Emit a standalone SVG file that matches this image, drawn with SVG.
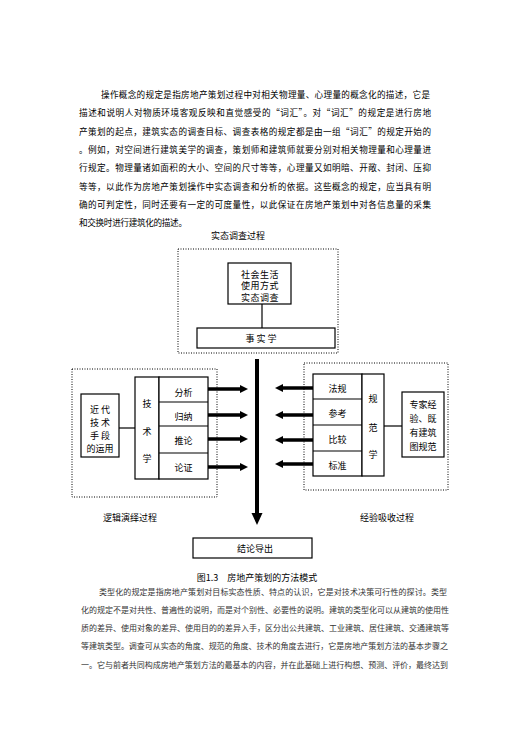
<svg xmlns="http://www.w3.org/2000/svg" width="529" height="748" viewBox="0 0 529 748">
<style>
text{font-family:"Noto Sans CJK SC","Noto Sans",sans-serif;dominant-baseline:central;fill:#000}
.p{font-size:8.6px}
.q{font-size:8px;fill:#333}
.t{font-size:9px;text-anchor:middle}
.box{fill:#fff;stroke:#000;stroke-width:1.2}
.dot{fill:none;stroke:#000;stroke-width:1;stroke-dasharray:1 1.5}
.ln{stroke:#000;stroke-width:1.2}
.arr{stroke:#000;stroke-width:3.5;marker-end:url(#ah)}
</style>
<defs>
<marker id="ah" markerUnits="userSpaceOnUse" markerWidth="9" markerHeight="9" refX="1" refY="4.5" orient="auto" viewBox="0 0 9 9">
<polygon points="0,0.5 8,4.5 0,8.5"/>
</marker>
</defs>
<rect width="529" height="748" fill="#fff"/>
<g id="para1">
<text class="p" x="101" y="94" textLength="329" lengthAdjust="spacing">操作概念的规定是指房地产策划过程中对相关物理量、心理量的概念化的描述，它是</text>
<text class="p" x="79" y="112.3" textLength="352" lengthAdjust="spacing">描述和说明人对物质环境客观反映和直觉感受的“词汇”。对“词汇”的规定是进行房地</text>
<text class="p" x="79" y="130.6" textLength="352" lengthAdjust="spacing">产策划的起点，建筑实态的调查目标、调查表格的规定都是由一组“词汇”的规定开始的</text>
<text class="p" x="79" y="148.9" textLength="352" lengthAdjust="spacing">。例如，对空间进行建筑美学的调查，策划师和建筑师就要分别对相关物理量和心理量进</text>
<text class="p" x="79" y="167.2" textLength="352" lengthAdjust="spacing">行规定。物理量诸如面积的大小、空间的尺寸等等，心理量又如明暗、开敞、封闭、压抑</text>
<text class="p" x="79" y="185.5" textLength="352" lengthAdjust="spacing">等等，以此作为房地产策划操作中实态调查和分析的依据。这些概念的规定，应当具有明</text>
<text class="p" x="79" y="203.8" textLength="352" lengthAdjust="spacing">确的可判定性，同时还要有一定的可度量性，以此保证在房地产策划中对各信息量的采集</text>
<text class="p" x="79" y="222.1" textLength="108" lengthAdjust="spacing">和交换时进行建筑化的描述。</text>
</g>
<g id="title-top"><text class="t" x="238" y="235">实态调查过程</text></g>
<rect class="dot" x="178" y="249" width="160" height="104"/>
<rect class="dot" x="72" y="369" width="145" height="128"/>
<rect class="dot" x="304" y="363" width="144" height="127"/>
<g id="connectors">
<line class="ln" x1="262" y1="304" x2="262" y2="328"/>
<line class="ln" x1="119" y1="428" x2="135" y2="428"/>
<line class="ln" x1="384" y1="426" x2="402" y2="426"/>
<line class="arr" x1="208" y1="389" x2="241" y2="389"/>
<line class="arr" x1="208" y1="415" x2="241" y2="415"/>
<line class="arr" x1="208" y1="439" x2="241" y2="439"/>
<line class="arr" x1="208" y1="467" x2="241" y2="467"/>
<line class="arr" x1="313" y1="388" x2="282" y2="388"/>
<line class="arr" x1="313" y1="415" x2="282" y2="415"/>
<line class="arr" x1="313" y1="440" x2="282" y2="440"/>
<line class="arr" x1="313" y1="464" x2="282" y2="464"/>
<rect x="255" y="359" width="4" height="155" fill="#000"/>
<polygon points="251.5,513 262.5,513 257,525" fill="#000"/>
</g>
<g id="n-shehui">
<rect class="box" x="228" y="263" width="63" height="41"/>
<text class="t" x="260" y="274" letter-spacing="0.5">社会生活</text>
<text class="t" x="260" y="285.5" letter-spacing="0.5">使用方式</text>
<text class="t" x="260" y="297" letter-spacing="0.5">实态调查</text>
</g>
<g id="n-shishi">
<rect class="box" x="197" y="328" width="138" height="20"/>
<text class="t" x="261" y="338">事 实 学</text>
</g>
<g id="n-jindai">
<rect class="box" x="81" y="394" width="38" height="63"/>
<text class="t" x="100" y="409">近 代</text>
<text class="t" x="100" y="422">技 术</text>
<text class="t" x="100" y="435">手 段</text>
<text class="t" x="100" y="448">的运用</text>
</g>
<g id="n-jishuxue">
<rect class="box" x="135" y="377" width="24" height="102"/>
<text class="t" x="147" y="403">技</text>
<text class="t" x="147" y="431">术</text>
<text class="t" x="147" y="458">学</text>
</g>
<g id="n-left-list">
<rect class="box" x="159" y="377" width="49" height="102"/>
<line class="ln" x1="159" y1="402" x2="208" y2="402"/>
<line class="ln" x1="159" y1="426" x2="208" y2="426"/>
<line class="ln" x1="159" y1="453" x2="208" y2="453"/>
<text class="t" x="183.5" y="392">分析</text>
<text class="t" x="183.5" y="416">归纳</text>
<text class="t" x="183.5" y="440">推论</text>
<text class="t" x="183.5" y="467">论证</text>
</g>
<g id="n-right-list">
<rect class="box" x="313" y="374" width="49" height="102"/>
<line class="ln" x1="313" y1="399" x2="362" y2="399"/>
<line class="ln" x1="313" y1="425" x2="362" y2="425"/>
<line class="ln" x1="313" y1="451" x2="362" y2="451"/>
<text class="t" x="337.5" y="388">法规</text>
<text class="t" x="337.5" y="413">参考</text>
<text class="t" x="337.5" y="439">比较</text>
<text class="t" x="337.5" y="465">标准</text>
</g>
<g id="n-guifanxue">
<rect class="box" x="362" y="374" width="22" height="102"/>
<text class="t" x="373" y="398">规</text>
<text class="t" x="373" y="427">范</text>
<text class="t" x="373" y="454">学</text>
</g>
<g id="n-zhuanjia">
<rect class="box" x="402" y="392" width="42" height="65"/>
<text class="t" x="423" y="404">专家经</text>
<text class="t" x="423" y="418">验、既</text>
<text class="t" x="423" y="432">有建筑</text>
<text class="t" x="423" y="446">图规范</text>
</g>
<g id="labels">
<text class="t" x="130" y="517">逻辑演绎过程</text>
<text class="t" x="387" y="517">经验吸收过程</text>
</g>
<g id="n-jielun">
<rect class="box" x="193" y="538" width="119" height="20"/>
<text class="t" x="255" y="548">结论导出</text>
</g>
<g id="caption"><text class="t" x="257" y="577">图1.3　房地产策划的方法模式</text></g>
<g id="para2">
<text class="q" x="99" y="591" textLength="348" lengthAdjust="spacing">类型化的规定是指房地产策划对目标实态性质、特点的认识，它是对技术决策可行性的探讨。类型</text>
<text class="q" x="81" y="609.3" textLength="368" lengthAdjust="spacing">化的规定不是对共性、普遍性的说明，而是对个别性、必要性的说明。建筑的类型化可以从建筑的使用性</text>
<text class="q" x="81" y="627.6" textLength="368" lengthAdjust="spacing">质的差异、使用对象的差异、使用目的的差异入手，区分出公共建筑、工业建筑、居住建筑、交通建筑等</text>
<text class="q" x="81" y="645.9" textLength="367" lengthAdjust="spacing">等建筑类型。调查可从实态的角度、规范的角度、技术的角度去进行，它是房地产策划方法的基本步骤之</text>
<text class="q" x="81" y="664.2" textLength="367" lengthAdjust="spacing">一。它与前者共同构成房地产策划方法的最基本的内容，并在此基础上进行构想、预测、评价，最终达到</text>
</g>
</svg>
